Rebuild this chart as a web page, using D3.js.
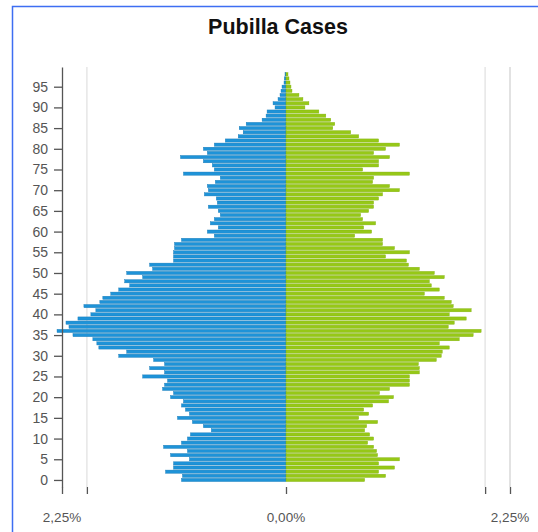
<!DOCTYPE html>
<html><head><meta charset="utf-8">
<script src="https://cdn.jsdelivr.net/npm/d3@7"></script>
<style>body{margin:0;background:#fff;}svg{display:block;font-family:"Liberation Sans",Arial,sans-serif;}</style>
</head><body>
<svg id="c" width="538" height="532"></svg>
<script>
const title = "Pubilla Cases";
const ages = d3.range(0, 99);
// percentage of population, men (left, blue)
const men = [1.05,1.04,1.21,1.13,1.13,0.97,1.16,0.99,1.23,1.05,
  0.99,0.96,0.75,0.83,0.94,1.09,0.97,1.01,1.05,1.03,
  1.16,1.13,1.24,1.22,1.19,1.44,1.22,1.37,1.22,1.33,
  1.68,1.60,1.88,1.90,1.94,2.14,2.30,2.18,2.21,2.09,
  1.96,1.91,2.03,1.87,1.84,1.76,1.68,1.57,1.62,1.44,
  1.60,1.34,1.37,1.13,1.13,1.13,1.12,1.12,1.05,0.72,
  0.79,0.68,0.76,0.72,0.66,0.68,0.78,0.69,0.70,0.82,
  0.78,0.79,0.71,0.66,1.03,0.72,0.74,0.83,1.06,0.79,
  0.83,0.72,0.61,0.48,0.43,0.47,0.40,0.24,0.20,0.19,
  0.11,0.13,0.08,0.06,0.05,0.04,0.02,0.017,0.01];
// percentage of population, women (right, green)
const women = [0.79,1.00,0.93,1.09,0.93,1.14,0.92,0.91,0.88,0.82,
  0.88,0.84,0.79,0.81,0.92,0.73,0.83,0.78,0.87,1.03,
  1.08,0.94,1.04,1.24,1.24,1.24,1.34,1.34,1.33,1.51,
  1.56,1.57,1.64,1.54,1.74,1.88,1.96,1.63,1.69,1.81,
  1.64,1.86,1.68,1.66,1.59,1.39,1.54,1.46,1.44,1.59,
  1.49,1.34,1.23,1.21,1.00,1.24,1.09,0.97,0.97,0.69,
  0.86,0.78,0.90,0.77,0.75,0.83,0.88,0.88,0.93,0.97,
  1.14,1.04,0.87,0.88,1.24,0.77,0.93,0.93,1.04,0.88,
  1.00,1.14,0.93,0.73,0.65,0.47,0.49,0.45,0.40,0.33,
  0.19,0.23,0.17,0.13,0.06,0.05,0.04,0.03,0.02];
const xTicks = [-2.25, -2, 0, 2, 2.25];
const xTickLabels = ["2,25%", "0,00%", "2,25%"];
const xLabelValues = [-2.25, 0, 2.25];
const yTicks = d3.range(0, 96, 5);

const svg = d3.select("#c");
// frame (only top/left edges visible)
svg.append("rect").attr("x", 12.5).attr("y", 6.5).attr("width", 600).attr("height", 600)
  .attr("fill", "none").attr("stroke", "#3d6ef2").attr("stroke-width", 1.5);

svg.append("text").attr("x", 278).attr("y", 34).attr("text-anchor", "middle")
  .attr("font-size", 21.5).attr("font-weight", "bold").attr("fill", "#111").text(title);

const x = d3.scaleLinear().domain([-2.25, 2.25]).range([62, 510]);
const y = d3.scaleLinear().domain([-1.7, 99.76]).range([487, 67]);

// gridlines
svg.append("g").selectAll("line").data([-2, 2, 2.25]).join("line")
  .attr("x1", d => x(d)).attr("x2", d => x(d)).attr("y1", 67).attr("y2", 487)
  .attr("stroke", d => d === 2.25 ? "#d8d8d8" : "#e6e6e6").attr("stroke-width", 1.5);

const barH = 3.2;
svg.append("g").selectAll("rect").data(ages).join("rect")
  .attr("x", d => x(-men[d])).attr("width", d => x(0) - x(-men[d]))
  .attr("y", d => y(d) - barH / 2).attr("height", barH)
  .attr("fill", "#1e93d8").attr("stroke", "#1879b5").attr("stroke-width", 0.4);
svg.append("g").selectAll("rect").data(ages).join("rect")
  .attr("x", x(0)).attr("width", d => x(women[d]) - x(0))
  .attr("y", d => y(d) - barH / 2).attr("height", barH)
  .attr("fill", "#96c817").attr("stroke", "#82b00f").attr("stroke-width", 0.4);

// y axis
const yAxis = svg.append("g").attr("transform", "translate(62,0)")
  .call(d3.axisLeft(y).tickValues(yTicks).tickSize(8).tickSizeOuter(0).tickPadding(6));
yAxis.select(".domain").attr("stroke", "#555").attr("stroke-width", 1.3);
yAxis.selectAll(".tick line").attr("stroke", "#555").attr("stroke-width", 1.3);
yAxis.selectAll("text").attr("font-size", 14).attr("fill", "#555")
  .attr("font-family", "Liberation Sans, Arial, sans-serif");

// x axis
const xAxis = svg.append("g").attr("transform", "translate(0,487)")
  .call(d3.axisBottom(x).tickValues(xTicks).tickSize(7).tickSizeOuter(0).tickFormat(""));
xAxis.select(".domain").remove();
xAxis.selectAll(".tick line").attr("stroke", "#555").attr("stroke-width", 1.3);
svg.append("g").selectAll("text").data(xLabelValues).join("text")
  .attr("x", d => x(d)).attr("y", 522).attr("text-anchor", "middle")
  .attr("font-size", 13.5).attr("fill", "#555").text((d, i) => xTickLabels[i]);
</script>
</body></html>
